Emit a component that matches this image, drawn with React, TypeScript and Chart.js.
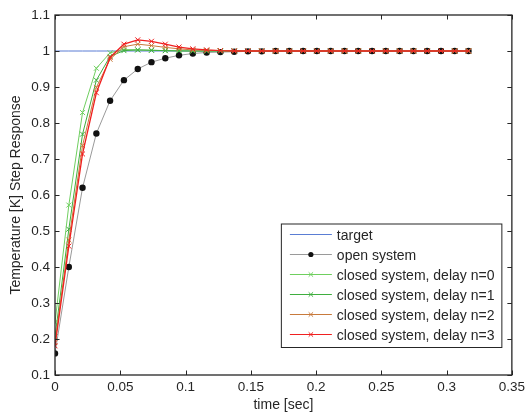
import React, { useEffect, useRef } from "react";
import { Chart, registerables } from "chart.js";

Chart.register(...registerables);

const times = [
  0, 0.0106, 0.0211, 0.0317, 0.0422, 0.0528, 0.0634, 0.0739, 0.0845, 0.095,
  0.1056, 0.1162, 0.1267, 0.1373, 0.1478, 0.1584, 0.169, 0.1795, 0.1901, 0.2006,
  0.2112, 0.2218, 0.2323, 0.2429, 0.2534, 0.264, 0.2746, 0.2851, 0.2957, 0.3062,
  0.3168,
];

const target = [
  1, 1, 1, 1, 1, 1, 1, 1, 1, 1, 1, 1, 1, 1, 1, 1, 1, 1, 1, 1, 1, 1, 1, 1, 1, 1, 1, 1, 1, 1, 1,
];

const openSystem = [
  0.16, 0.4, 0.62, 0.771, 0.862, 0.919, 0.95, 0.969, 0.98, 0.988, 0.993, 0.996,
  0.997, 0.998, 0.999, 0.999, 1, 1, 1, 1, 1, 1, 1, 1, 1, 1, 1, 1, 1, 1, 1,
];

const delay0 = [
  0.246, 0.572, 0.829, 0.952, 0.995, 1.004, 1.003, 1.002, 1.001, 1.001, 1, 1,
  1, 1, 1, 1, 1, 1, 1, 1, 1, 1, 1, 1, 1, 1, 1, 1, 1, 1, 1,
];

const delay1 = [
  0.206, 0.505, 0.769, 0.919, 0.985, 1.001, 1.003, 1.002, 1.001, 1, 1, 1,
  1, 1, 1, 1, 1, 1, 1, 1, 1, 1, 1, 1, 1, 1, 1, 1, 1, 1, 1,
];

const delay2 = [
  0.19, 0.475, 0.737, 0.899, 0.977, 1.012, 1.019, 1.015, 1.01, 1.006, 1.003, 1.002,
  1.001, 1, 1, 1, 1, 1, 1, 1, 1, 1, 1, 1, 1, 1, 1, 1, 1, 1, 1,
];

const delay3 = [
  0.181, 0.458, 0.714, 0.884, 0.982, 1.019, 1.031, 1.027, 1.019, 1.011, 1.006, 1.003,
  1.001, 1, 1, 1, 1, 1, 1, 1, 1, 1, 1, 1, 1, 1, 1, 1, 1, 1, 1,
];

const seriesLabels = [
  "target",
  "open system",
  "closed system, delay n=0",
  "closed system, delay n=1",
  "closed system, delay n=2",
  "closed system, delay n=3",
];

const xTitle = "time [sec]";
const yTitle = "Temperature [K] Step Response";

const FONT = "'Liberation Sans', Arial, Helvetica, sans-serif";
const TEXT = "#262626";

const toPts = (vals: number[]) => vals.map((v, i) => ({ x: times[i], y: v }));

const framePlugin = {
  id: "matlabFrame",
  afterDatasetsDraw(chart: any) {
    const { ctx, chartArea } = chart;
    const { left, right, top, bottom } = chartArea;
    const xs = chart.scales.x;
    const ys = chart.scales.y;
    const tl = 4.5;
    ctx.save();
    ctx.strokeStyle = TEXT;
    ctx.lineWidth = 1;
    ctx.beginPath();
    xs.ticks.forEach((t: any) => {
      const px = Math.round(xs.getPixelForValue(t.value)) + 0.5;
      ctx.moveTo(px, bottom);
      ctx.lineTo(px, bottom - tl);
      ctx.moveTo(px, top);
      ctx.lineTo(px, top + tl);
    });
    ys.ticks.forEach((t: any) => {
      const py = Math.round(ys.getPixelForValue(t.value)) + 0.5;
      ctx.moveTo(left, py);
      ctx.lineTo(left + tl, py);
      ctx.moveTo(right, py);
      ctx.lineTo(right - tl, py);
    });
    ctx.stroke();
    ctx.lineWidth = 1.3;
    ctx.strokeRect(left, top, right - left, bottom - top);

    // legend
    const bx = right - 231;
    const by = bottom - 151.5;
    const bw = 220.5;
    const bh = 123.5;
    ctx.fillStyle = "#ffffff";
    ctx.fillRect(bx, by, bw, bh);
    ctx.lineWidth = 1;
    ctx.strokeStyle = TEXT;
    ctx.strokeRect(bx + 0.5, by + 0.5, bw, bh);
    const ds = chart.data.datasets;
    ds.forEach((d: any, i: number) => {
      const y = by + 11 + i * 20;
      const x0 = bx + 9;
      const x1 = bx + 51;
      ctx.strokeStyle = d.borderColor;
      ctx.lineWidth = 1;
      ctx.beginPath();
      ctx.moveTo(x0, y);
      ctx.lineTo(x1, y);
      ctx.stroke();
      const mx = (x0 + x1) / 2;
      if (d.pointRadius > 0 && d.pointStyle === "circle") {
        ctx.fillStyle = d.pointBackgroundColor;
        ctx.beginPath();
        ctx.arc(mx, y, 2.6, 0, Math.PI * 2);
        ctx.fill();
      } else if (d.pointRadius > 0 && d.pointStyle === "crossRot") {
        ctx.strokeStyle = d.pointBorderColor;
        ctx.lineWidth = 1;
        ctx.beginPath();
        ctx.moveTo(mx - 2.2, y - 2.2);
        ctx.lineTo(mx + 2.2, y + 2.2);
        ctx.moveTo(mx + 2.2, y - 2.2);
        ctx.lineTo(mx - 2.2, y + 2.2);
        ctx.stroke();
      }
      ctx.fillStyle = TEXT;
      ctx.font = `14px ${FONT}`;
      ctx.textBaseline = "middle";
      ctx.textAlign = "left";
      ctx.fillText(d.label, bx + 56, y + 1.5);
    });
    ctx.restore();
  },
};

export default function App() {
  const ref = useRef<HTMLCanvasElement | null>(null);

  useEffect(() => {
    if (!ref.current) return;
    const colors = ["#5a7dd4", "#9a9a9a", "#6fcf5f", "#3fae3f", "#c87a3c", "#f02020"];
    const values = [target, openSystem, delay0, delay1, delay2, delay3];
    const datasets = values.map((vals, i) => {
      const isTarget = i === 0;
      const isOpen = i === 1;
      return {
        label: seriesLabels[i],
        data: toPts(vals),
        borderColor: colors[i],
        backgroundColor: colors[i],
        borderWidth: i === 5 ? 1.3 : 1,
        pointStyle: isOpen ? "circle" : "crossRot",
        pointRadius: isTarget ? 0 : isOpen ? 3.2 : 3.5,
        pointBorderWidth: isOpen ? 0 : 1,
        pointBackgroundColor: isOpen ? "#111111" : colors[i],
        pointBorderColor: isOpen ? "#111111" : colors[i],
        tension: 0,
        fill: false,
        order: 6 - i,
      };
    });

    const chart = new Chart(ref.current, {
      type: "line",
      data: { datasets },
      options: {
        animation: false,
        responsive: false,
        events: [],
        layout: { padding: { top: 15, right: 16, left: 0, bottom: 0 } },
        plugins: {
          legend: { display: false },
          tooltip: { enabled: false },
        },
        scales: {
          x: {
            type: "linear",
            min: 0,
            max: 0.35,
            grid: { display: false, drawTicks: false, tickLength: 0 },
            border: { display: false },
            ticks: {
              stepSize: 0.05,
              padding: 4,
              color: TEXT,
              font: { size: 13.5, family: FONT },
              maxRotation: 0,
              autoSkip: false,
              callback: (v: any) => String(Number(Number(v).toFixed(2))),
            },
            title: {
              display: true,
              text: xTitle,
              color: TEXT,
              font: { size: 14, family: FONT },
              padding: { top: 0, bottom: 3 },
            },
            afterFit: (s: any) => {
              s.height = 42;
            },
          },
          y: {
            type: "linear",
            min: 0.1,
            max: 1.1,
            grid: { display: false, drawTicks: false, tickLength: 0 },
            border: { display: false },
            ticks: {
              stepSize: 0.1,
              padding: 5,
              color: TEXT,
              font: { size: 13.5, family: FONT },
              autoSkip: false,
              callback: (v: any) => String(Number(Number(v).toFixed(2))),
            },
            title: {
              display: true,
              text: yTitle,
              color: TEXT,
              font: { size: 14, family: FONT },
              padding: { top: 7.5, bottom: 0 },
            },
            afterFit: (s: any) => {
              s.width = 55;
            },
          },
        },
      },
      plugins: [framePlugin],
    } as any);
    return () => chart.destroy();
  }, []);

  return (
    <div style={{ position: "fixed", left: 0, top: 0, width: 529, height: 417, background: "#fff" }}>
      <canvas ref={ref} width={529} height={417} style={{ width: 529, height: 417, display: "block" }} />
    </div>
  );
}
